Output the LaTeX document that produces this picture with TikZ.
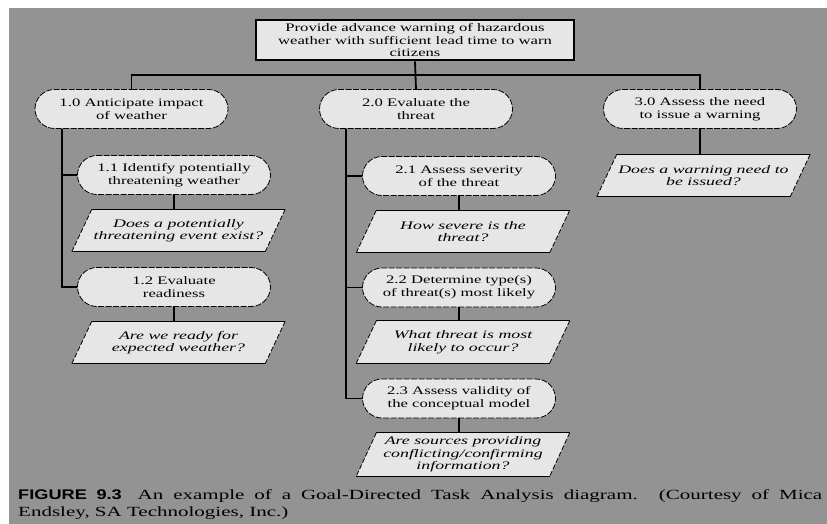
\documentclass[tikz,border=0pt]{standalone}
\usepackage{fontspec}
\setmainfont{Liberation Serif}
\newfontfamily\boxfont{Liberation Serif}[FakeStretch=1.45]
\newfontfamily\qfont{Liberation Serif}[FakeStretch=1.55,
  ItalicFont={Liberation Serif Italic},
  ItalicFeatures={FakeStretch=1.55}]
\newfontfamily\capfont{Liberation Serif}[FakeStretch=1.5]
\newfontfamily\figfont{Liberation Sans}[FakeStretch=1.3]
\usetikzlibrary{shapes.misc}
\definecolor{panel}{HTML}{939393}
\definecolor{boxfill}{HTML}{E6E6E6}
\pgfdeclarelayer{back}
\pgfdeclarelayer{mid}
\pgfsetlayers{back,mid,main}

\tikzset{
  goalbox/.style={rectangle, draw, line width=2pt, fill=boxfill,
    minimum width=318pt, minimum height=40pt, inner sep=0pt, align=center,
    font=\boxfont\fontsize{11.5}{12.5}\selectfont},
  subgoal/.style={rounded rectangle, draw, line width=0.8pt,
    dash pattern=on 6pt off 1.5pt, fill=boxfill,
    minimum width=193pt, minimum height=39pt, inner sep=0pt, align=center,
    font=\boxfont\fontsize{11.5}{13}\selectfont},
  question/.style={rectangle, inner sep=0pt, minimum width=193pt,
    minimum height=42pt, align=center,
    font=\qfont\itshape\fontsize{11.5}{12.5}\selectfont},
  link/.style={line width=1.8pt},
  qedge/.style={line width=1pt},
  qside/.style={line width=0.8pt, dash pattern=on 5pt off 2pt},
}

\begin{document}
\begin{tikzpicture}[x=1pt,y=-1pt]
  % canvas and grey panel
  \begin{pgfonlayer}{back}
    \fill[white] (0,0) rectangle (827,524);
    \fill[panel] (9,8) rectangle (827,524);
  \end{pgfonlayer}
  \useasboundingbox (0,0) rectangle (827,524);

  % top-level goal
  \node[goalbox] (top) at (415,40.5)
    {Provide advance warning of hazardous\\weather with sufficient lead time to warn\\citizens};

  % major goals
  \node[subgoal] (n10) at (131.5,109) {1.0 Anticipate impact\\of weather};
  \node[subgoal] (n20) at (416,109) {2.0 Evaluate the\\threat};
  \node[subgoal] (n30) at (700,109) {3.0 Assess the need\\to issue a warning};

  % subgoals
  \node[subgoal] (n11) at (174,175) {1.1 Identify potentially\\threatening weather};
  \node[subgoal] (n12) at (174,287) {1.2 Evaluate\\readiness};
  \node[subgoal] (n21) at (459,176) {2.1 Assess severity\\of the threat};
  \node[subgoal] (n22) at (459,287.5) {2.2 Determine type(s)\\of threat(s) most likely};
  \node[subgoal] (n23) at (459,398.5) {2.3 Assess validity of\\the conceptual model};

  % questions
  \node[question] (q11) at (178.5,230.5) {Does a potentially\\threatening event exist?};
  \node[question] (q12) at (178.5,342.5) {Are we ready for\\expected weather?};
  \node[question] (q21) at (463,231.5) {How severe is the\\threat?};
  \node[question] (q22) at (463,342) {What threat is most\\likely to occur?};
  \node[question, minimum height=43pt] (q23) at (463,454.5)
    {Are sources providing\\conflicting/confirming\\information?};
  \node[question] (q30) at (703.5,175.5) {Does a warning need to\\be issued?};

  % parallelogram outlines behind the question texts
  \begin{pgfonlayer}{mid}
  \foreach \q in {q11,q12,q21,q22,q23,q30}{
      \fill[boxfill] ([xshift=10pt]\q.north west) -- ([xshift=10pt]\q.north east)
        -- ([xshift=-10pt]\q.south east) -- ([xshift=-10pt]\q.south west) -- cycle;
      \draw[qedge] ([xshift=10pt]\q.north west) -- ([xshift=10pt]\q.north east);
      \draw[qedge] ([xshift=-10pt]\q.south west) -- ([xshift=-10pt]\q.south east);
      \draw[qside] ([xshift=10pt]\q.north east) -- ([xshift=-10pt]\q.south east);
      \draw[qside] ([xshift=10pt]\q.north west) -- ([xshift=-10pt]\q.south west);
  }
  \end{pgfonlayer}

  % tree connectors
  \coordinate (bus) at (0,75);
  \coordinate (sp1) at (62,0);
  \coordinate (sp2) at (346,0);
  \draw[link] (top.south) -- (n20.north);
  \draw[link] (n10.north) -- (n10.north |- bus) -- (n30.north |- bus) -- (n30.north);

  \draw[link] (n10.south -| sp1) |- (n12.west);
  \draw[link] (n11.west -| sp1) -- (n11.west);
  \draw[link] (n20.south -| sp2) |- (n23.west);
  \draw[link] (n21.west -| sp2) -- (n21.west);
  \draw[link] (n22.west -| sp2) -- (n22.west);

  \draw[link] (n11.south) -- (n11.south |- q11.north);
  \draw[link] (n12.south) -- (n12.south |- q12.north);
  \draw[link] (n21.south) -- (n21.south |- q21.north);
  \draw[link] (n22.south) -- (n22.south |- q22.north);
  \draw[link] (n23.south) -- (n23.south |- q23.north);
  \draw[link] (n30.south) -- (n30.south |- q30.north);

  % caption
  \node[anchor=base west, inner sep=0pt, font=\capfont\fontsize{14}{17}\selectfont] (cap1) at (18,499)
    {\makebox[804pt][s]{{\figfont\bfseries FIGURE 9.3}\hspace{6pt} An example of a Goal-Directed Task Analysis diagram. (Courtesy of Mica}};
  \node[anchor=base west, inner sep=0pt, font=\capfont\fontsize{14}{17}\selectfont] (cap2) at (18,516)
    {Endsley, SA Technologies, Inc.)};
\end{tikzpicture}
\end{document}
